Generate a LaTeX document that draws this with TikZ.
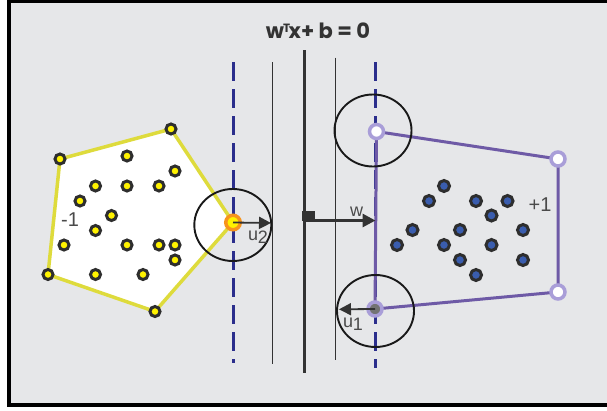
\documentclass[tikz,border=0pt]{standalone}
\usepackage{fontspec}
\usetikzlibrary{arrows.meta,shapes.geometric}
\newfontfamily\titlefont{Poppins}
\newfontfamily\labelfont{Liberation Sans}

\definecolor{panel}{HTML}{E6E7E9}
\definecolor{ink}{HTML}{333333}
\definecolor{ring}{HTML}{2E2E2E}
\definecolor{dotyellow}{HTML}{FFF200}
\definecolor{dotblue}{HTML}{3A5DAE}
\definecolor{hullyellow}{HTML}{DEDB3C}
\definecolor{hullpurple}{HTML}{6E5AA6}
\definecolor{lilac}{HTML}{A99ED8}
\definecolor{navy}{HTML}{2B2E8C}
\definecolor{svorange}{HTML}{F7941D}
\definecolor{labelgray}{HTML}{4A4A4A}

\tikzset{
  ydot/.style={circle, inner sep=0pt, minimum size=10pt, line width=3pt, draw=ring, fill=dotyellow},
  bdot/.style={circle, inner sep=0pt, minimum size=11pt, line width=3pt, draw=ring, fill=dotblue},
  svpurple/.style={circle, inner sep=0pt, minimum size=14pt, line width=3.5pt, draw=lilac, fill=white},
  svorangedot/.style={circle, inner sep=0pt, minimum size=14.5pt, line width=3.5pt, draw=svorange, fill=dotyellow},
  yhull/.style={draw=hullyellow, line width=3.5pt, fill=white, line join=round},
  phull/.style={draw=hullpurple, line width=3pt, line join=round},
  marginline/.style={draw=navy, line width=3pt, dash pattern=on 19pt off 8pt},
  thinline/.style={draw=ink, line width=1.3pt},
  hyperplane/.style={draw=ink, line width=3.3pt},
  probe/.style={ellipse, draw=black!90, line width=1.9pt, minimum width=77pt, minimum height=72pt, inner sep=0pt},
  vecarrow/.style={draw=ink, line width=1.8pt, -{Triangle[length=12pt,width=12pt]}},
  normalarrow/.style={draw=ink, line width=3pt, -{Triangle[length=13pt,width=13pt]}},
  classlabel/.style={font=\labelfont\fontsize{20}{22}\selectfont, text=labelgray, inner sep=0pt},
  veclabel/.style={font=\labelfont\fontsize{18}{20}\selectfont, text=labelgray, inner sep=0pt},
  titletext/.style={font=\titlefont\bfseries\fontsize{21}{24}\selectfont, text=ink, inner sep=0pt}
}

\begin{document}
\begin{tikzpicture}[x=1pt,y=-1pt]
  \useasboundingbox (0,0) rectangle (607,410);

  % framed panel
  \fill[white] (0,0) rectangle (607,410);
  \fill[black] (7,0) rectangle (607,407);
  \fill[panel] (11,3) rectangle (607,403);

  % hull corners of the two classes
  \coordinate (h1) at (171,129);
  \coordinate (h2) at (60,159);
  \coordinate (h3) at (48,274.5);
  \coordinate (h4) at (155,311.5);
  \coordinate (h5) at (233,222.5);
  \coordinate (p1) at (376.5,131.5);
  \coordinate (p2) at (558,159);
  \coordinate (p3) at (558,292);
  \coordinate (p4) at (375,309);

  % convex hull of class -1
  \draw[yhull] (h1) -- (h2) -- (h3) -- (h4) -- (h5) -- cycle;

  % margins, parallel lines and separating hyperplane
  \coordinate (mlt) at (233,62);   \coordinate (mlb) at (233,363);
  \coordinate (tlt) at (272.5,62); \coordinate (tlb) at (272.5,364);
  \coordinate (hpt) at (304.3,50); \coordinate (hpb) at (304.3,373);
  \coordinate (trt) at (335.7,57.5); \coordinate (trb) at (335.7,360);
  \coordinate (mrt) at (375.5,62); \coordinate (mrb) at (375.5,368);
  \draw[marginline] (mlt) -- (mlb);
  \draw[thinline] (tlt) -- (tlb);
  \draw[hyperplane] (hpt) -- (hpb);
  \draw[thinline] (trt) -- (trb);
  \draw[marginline] (mrt) -- (mrb);

  % convex hull of class +1
  \draw[phull] (p1) -- (p2) -- (p3) -- (p4) -- cycle;

  % neighbourhoods around the support vectors
  \node[probe] (c2) at (232.8,225) {};
  \node[probe] (c1top) at (373,130.5) {};
  \node[probe] (c1) at (375.5,311) {};

  % equation of the hyperplane
  \node[titletext] (title) at (318,31) {w\kern-1pt\raisebox{6.5pt}{\fontsize{12}{12}\selectfont T}\kern-1.5pt x+ b = 0};

  % class -1 samples
  \foreach \px/\py [count=\i] in {127/156, 175/171, 95.5/186, 127/186, 159/186, 80/201,
      111.5/215.5, 95.5/230.5, 64/245, 127/245, 159/245, 175/245, 175/260, 95.5/274.5, 143/274.5}
    \node[ydot] (ya\i) at (\px,\py) {};
  \foreach \c in {h1,h2,h3,h4}
    \node[ydot] (y\c) at (\c) {};
  \node[svorangedot] (sv2) at (h5) {};

  % class +1 samples
  \foreach \px/\py [count=\i] in {444/186, 429/201, 476/201, 507.5/201, 491.5/215.5,
      412.5/230, 460/230, 523/230, 397/245, 444/245, 491.5/245, 460/260, 523/260, 476/275}
    \node[bdot] (bb\i) at (\px,\py) {};
  \node[svpurple] (sp1) at (p1) {};
  \node[svpurple] (sp2) at (p2) {};
  \node[svpurple] (sp3) at (p3) {};
  \node[svpurple, fill=black!55] (sv1) at (p4) {};

  % class labels
  \node[classlabel] (lneg) at (70,220) {-1};
  \node[classlabel] (lpos) at (540,204.5) {+1};

  % displacement vectors and normal vector
  \coordinate (u2tip) at (271,223);
  \draw[vecarrow] (sv2.center) -- (u2tip);
  \node[veclabel] (u2lab) at (258,237.5) {u\kern-0.5pt\raisebox{-3pt}{2}};

  \coordinate (u1tip) at (339,309.3);
  \draw[vecarrow] (sv1.center) -- (u1tip);
  \node[veclabel] (u1lab) at (353,324) {u\kern-0.5pt\raisebox{-3pt}{1}};

  \coordinate (wfoot) at (304.3,220.5);
  \coordinate (wtip) at (375.5,220.5);
  \draw[normalarrow] (wfoot) -- (wtip);
  \fill[ink] (302.3,210.7) rectangle (315,220.7);
  \node[veclabel] (wlab) at (356.5,212) {w};
\end{tikzpicture}
\end{document}
